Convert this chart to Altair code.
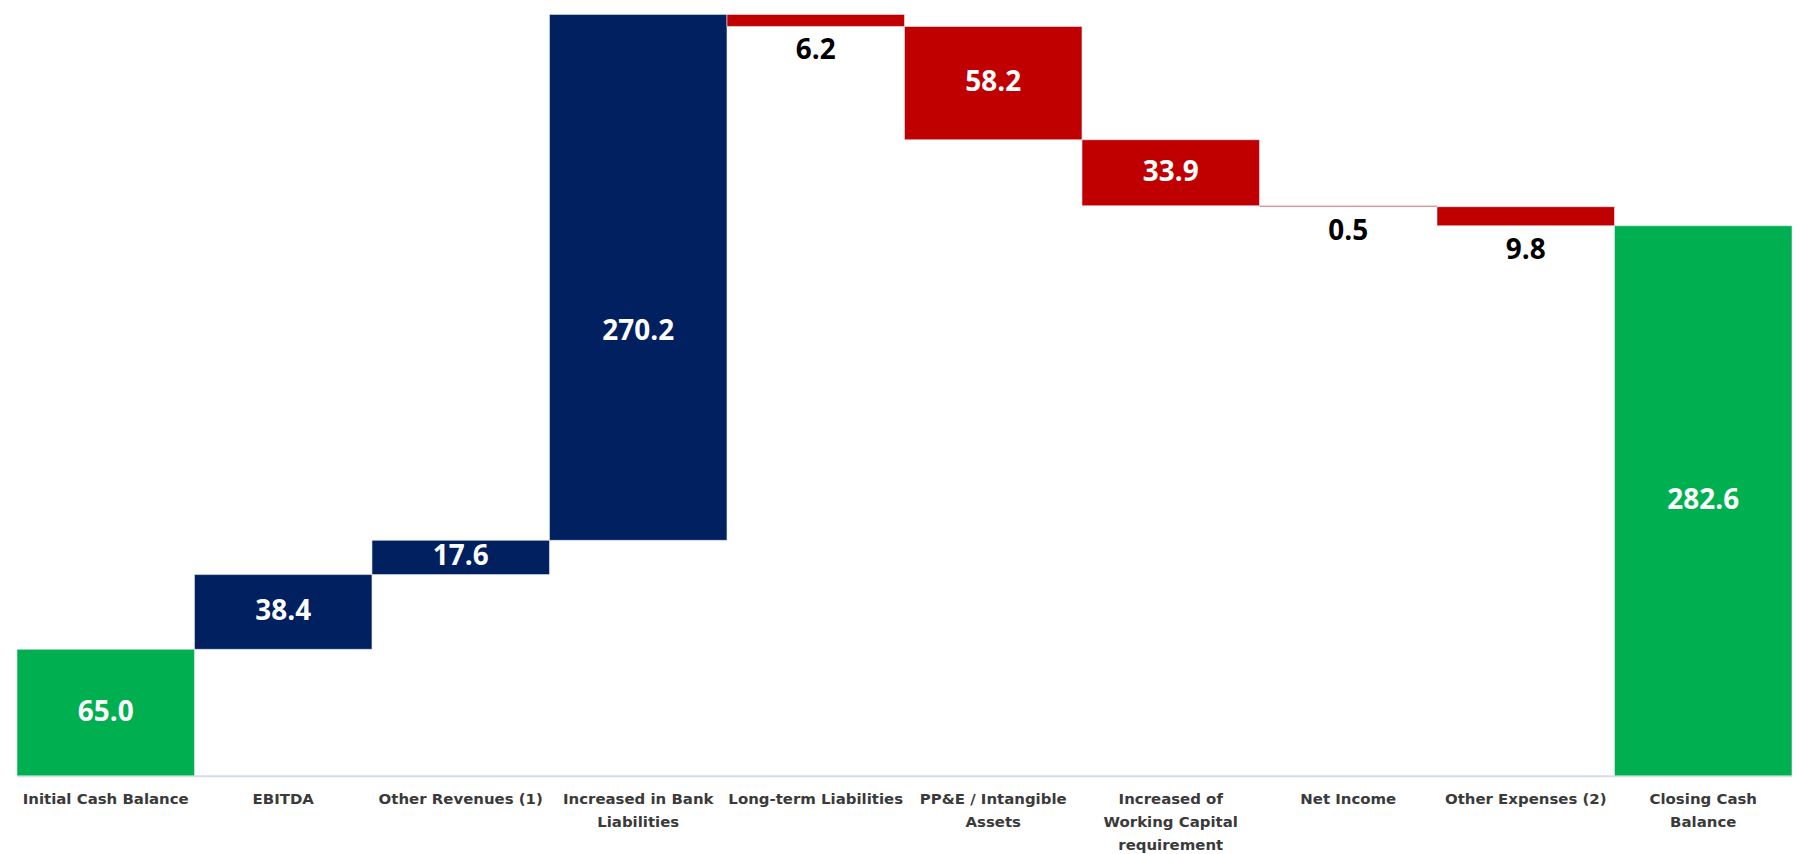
import altair as alt
import pandas as pd

categories = [
    "Initial Cash Balance",
    "EBITDA",
    "Other Revenues (1)",
    "Increased in Bank|Liabilities",
    "Long-term Liabilities",
    "PP&E / Intangible|Assets",
    "Increased of|Working Capital|requirement",
    "Net Income",
    "Other Expenses (2)",
    "Closing Cash|Balance",
]
amounts = [65.0, 38.4, 17.6, 270.2, -6.2, -58.2, -33.9, -0.5, -9.8, 282.6]
kinds = ["total", "increase", "increase", "increase", "decrease",
         "decrease", "decrease", "decrease", "decrease", "total"]

rows = []
running = 0.0
for cat, amt, kind in zip(categories, amounts, kinds):
    if kind == "total":
        start, end = 0.0, amt
        running = amt
    else:
        start = running
        end = running + amt
        running = end
    lo, hi = min(start, end), max(start, end)
    rows.append({
        "category": cat,
        "kind": kind,
        "lo": lo,
        "hi": hi,
        "mid": (lo + hi) / 2,
        "label": f"{abs(amt):.1f}",
        "inside": abs(amt) > 10,
        "tall": abs(amt) > 250 and kind != "total",
    })
df = pd.DataFrame(rows)
ymax = df["hi"].max()

x_enc = alt.X(
    "category:N",
    sort=categories,
    scale=alt.Scale(paddingInner=0, paddingOuter=0),
    axis=alt.Axis(
        title=None,
        labelAngle=0,
        ticks=False,
        domainColor="#D6DCE5",
        domainWidth=2,
        labelExpr="split(datum.value, '|')",
        labelFont="DejaVu Sans",
        labelFontSize=15,
        labelFontWeight="bold",
        labelColor="#3A3A3A",
        labelPadding=23,
        labelLineHeight=23,
        labelLimit=0,
        labelBaseline="middle",
    ),
)
y_scale = alt.Scale(domain=[0, ymax], nice=False, zero=True)

base = alt.Chart(df)

bars = base.mark_bar(stroke="#E4E9F2", strokeWidth=0.6).encode(
    x=x_enc,
    y=alt.Y("lo:Q", scale=y_scale, axis=None),
    y2="hi:Q",
    color=alt.Color(
        "kind:N",
        scale=alt.Scale(domain=["total", "increase", "decrease"],
                        range=["#00B050", "#002060", "#C00000"]),
        legend=None,
    ),
)

text_style = dict(font="Open Sans", fontWeight="bold", fontSize=28,
                  baseline="middle", align="center")

inside = base.transform_filter("datum.inside && !datum.tall").mark_text(
    color="white", **text_style
).encode(
    x=alt.X("category:N", sort=categories),
    y=alt.Y("mid:Q", scale=y_scale),
    text="label:N",
)

inside_tall = base.transform_filter("datum.tall").mark_text(
    color="white", dy=55, **text_style
).encode(
    x=alt.X("category:N", sort=categories),
    y=alt.Y("mid:Q", scale=y_scale),
    text="label:N",
)

outside = base.transform_filter("!datum.inside").mark_text(
    color="black", dy=25, **text_style
).encode(
    x=alt.X("category:N", sort=categories),
    y=alt.Y("lo:Q", scale=y_scale),
    text="label:N",
)

chart = (
    alt.layer(bars, inside, inside_tall, outside)
    .properties(
        width=1781,
        height=764,
        autosize=alt.AutoSizeParams(type="none"),
        padding={"left": 9, "top": 5, "right": 0, "bottom": 76},
    )
    .configure_view(stroke=None)
)

chart.save("out.html", embed_options={"renderer": "svg", "actions": False})
